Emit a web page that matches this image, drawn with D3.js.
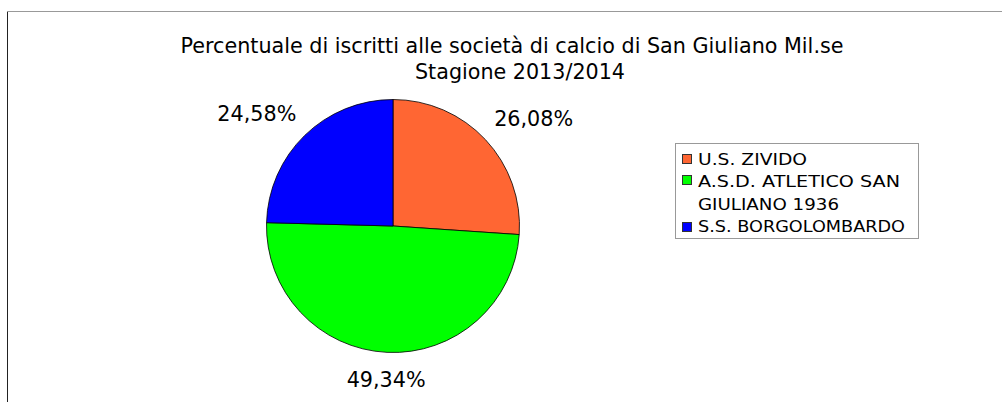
<!DOCTYPE html>
<html>
<head>
<meta charset="utf-8">
<script src="https://cdn.jsdelivr.net/npm/d3@7"></script>
<style>
  body { margin: 0; background: #fff; }
  svg text { font-family: "DejaVu Sans", Verdana, sans-serif; fill: #000; }
</style>
</head>
<body>
<svg id="chart" width="1002" height="402"></svg>
<script>
// data
var categories = ["U.S. ZIVIDO", "A.S.D. ATLETICO SAN GIULIANO 1936", "S.S. BORGOLOMBARDO"];
var values = [26.08, 49.34, 24.58];
var valueLabels = ["26,08%", "49,34%", "24,58%"];
var colors = ["#ff6633", "#00ff00", "#0000ff"];
var legendLines = [["U.S. ZIVIDO"], ["A.S.D. ATLETICO SAN", "GIULIANO 1936"], ["S.S. BORGOLOMBARDO"]];
var titleLines = ["Percentuale di iscritti alle società di calcio di San Giuliano Mil.se", "Stagione 2013/2014"];

var svg = d3.select("#chart");

// frame (only left and top visible)
svg.append("line").attr("x1", 7.5).attr("y1", 11).attr("x2", 7.5).attr("y2", 402)
    .attr("stroke", "#222").attr("stroke-width", 1);
svg.append("line").attr("x1", 7).attr("y1", 11.5).attr("x2", 1002).attr("y2", 11.5)
    .attr("stroke", "#999").attr("stroke-width", 1);

// title
var titlePos = [{x: 512, y: 53, w: 663}, {x: 520, y: 79, w: 210}];
svg.selectAll("text.title").data(titleLines).enter().append("text")
    .attr("class", "title")
    .attr("x", (d, i) => titlePos[i].x)
    .attr("y", (d, i) => titlePos[i].y)
    .attr("text-anchor", "middle")
    .attr("font-size", 22)
    .attr("textLength", (d, i) => titlePos[i].w)
    .attr("lengthAdjust", "spacingAndGlyphs")
    .text(d => d);

// pie
var cx = 393, cy = 226, r = 126.5;
var pie = d3.pie().sort(null).value(d => d);
var arc = d3.arc().innerRadius(0).outerRadius(r);
var arcs = pie(values);

var g = svg.append("g").attr("transform", "translate(" + cx + "," + cy + ")");
g.selectAll("path").data(arcs).enter().append("path")
    .attr("d", arc)
    .attr("fill", (d, i) => colors[i])
    .attr("stroke", "#000")
    .attr("stroke-width", 0.8);

// value labels, placed outside along the mid-angle
var labelArc = d3.arc().innerRadius(r + 40).outerRadius(r + 40);
var labelOffsets = [[19, 14], [1, -5], [-20, 14.5]];
g.selectAll("text.val").data(arcs).enter().append("text")
    .attr("class", "val")
    .attr("x", (d, i) => labelArc.centroid(d)[0] + labelOffsets[i][0])
    .attr("y", (d, i) => labelArc.centroid(d)[1] + labelOffsets[i][1])
    .attr("text-anchor", "middle")
    .attr("font-size", 22)
    .attr("textLength", 79)
    .attr("lengthAdjust", "spacingAndGlyphs")
    .text((d, i) => valueLabels[i]);

// legend
var legend = svg.append("g");
legend.append("rect").attr("x", 675.5).attr("y", 143.5).attr("width", 243).attr("height", 95)
    .attr("fill", "#fff").attr("stroke", "#999").attr("stroke-width", 1);

var swatchY = [154, 175, 222];
var lineY = [[165], [186.5, 210], [231.5]];
var lineW = [[109], [202, 141], [207]];
legend.selectAll("rect.sw").data(categories).enter().append("rect")
    .attr("class", "sw")
    .attr("x", 682.5).attr("y", (d, i) => swatchY[i] + 0.5)
    .attr("width", 9).attr("height", 9)
    .attr("fill", (d, i) => colors[i])
    .attr("stroke", "#333").attr("stroke-width", 1);

legendLines.forEach(function(lines, i) {
    lines.forEach(function(t, j) {
        legend.append("text")
            .attr("x", 698).attr("y", lineY[i][j])
            .attr("font-size", 15)
            .attr("textLength", lineW[i][j])
            .attr("lengthAdjust", "spacingAndGlyphs")
            .text(t);
    });
});
</script>
</body>
</html>
